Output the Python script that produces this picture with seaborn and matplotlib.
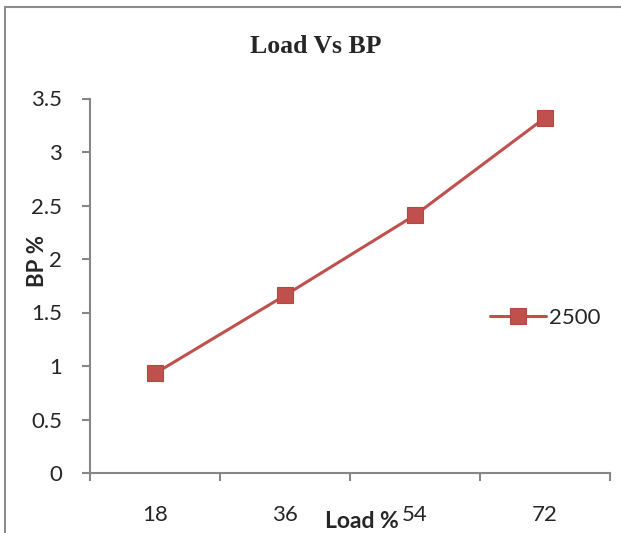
import matplotlib
matplotlib.use("Agg")
import matplotlib.pyplot as plt
import seaborn as sns
import pandas as pd
from matplotlib.patches import Rectangle

loads = ["18", "36", "54", "72"]
bp = [0.93, 1.66, 2.41, 3.32]
series_name = "2500"
y_ticks = [0, 0.5, 1, 1.5, 2, 2.5, 3, 3.5]
y_tick_labels = ["0", "0.5", "1", "1.5", "2", "2.5", "3", "3.5"]

df = pd.DataFrame({"Load": loads, "BP": bp, "Series": series_name})

sns.set_style("white")
plt.rcParams["font.family"] = ["Lato", "DejaVu Sans"]

fig = plt.figure(figsize=(6.21, 5.33), dpi=100)
ax = fig.add_axes([90 / 621, 60 / 533, 520 / 621, 374.5 / 533])

red = "#C0504D"
sns.lineplot(data=df, x="Load", y="BP", hue="Series", palette=[red], ax=ax,
             marker="s", markersize=11.5, markeredgecolor="#B5473F",
             markeredgewidth=0.8, linewidth=2.2, sort=False)

ax.set_xlim(-0.5, len(loads) - 0.5)
ax.set_ylim(0, 3.5)

gray = "#868686"
for s in ["top", "right"]:
    ax.spines[s].set_visible(False)
for s in ["left", "bottom"]:
    ax.spines[s].set_color(gray)
    ax.spines[s].set_linewidth(1.5)

ax.set_yticks(y_ticks)
ax.set_yticklabels(y_tick_labels, fontsize=16)
ax.tick_params(axis="y", which="major", direction="out", length=6, width=1.5,
               color=gray, pad=14, left=True)

ax.set_xticks([i - 0.5 for i in range(len(loads) + 1)])
ax.set_xticklabels([])
ax.set_xticks(range(len(loads)), minor=True)
ax.set_xticklabels(loads, minor=True, fontsize=16)
ax.tick_params(axis="x", which="major", direction="out", length=6, width=1.5,
               color=gray, bottom=True)
ax.tick_params(axis="x", which="minor", length=0, pad=23)

ax.set_xlabel("")
ax.set_ylabel("")
fig.text(362 / 621, 1 - 528 / 533, "Load %", ha="center", va="baseline",
         fontsize=16.5, fontweight="bold")
fig.text(44 / 621, 1 - 261 / 533, "BP %", ha="center", va="baseline",
         fontsize=16, fontweight="bold", rotation=90, rotation_mode="anchor")
fig.text(316 / 621, 1 - 53 / 533, "Load Vs BP", ha="center", va="baseline",
         fontsize=18.5, fontweight="bold", family="Liberation Serif")

ax.legend(loc="center left", bbox_to_anchor=(490 / 621, 1 - 318 / 533),
          bbox_transform=fig.transFigure, frameon=False, fontsize=16,
          handlelength=2.5, handletextpad=0.15, borderaxespad=0, borderpad=0)

fig.add_artist(Rectangle((5 / 621, -0.5), 2, 0.5 + (1 - 7 / 533),
                         transform=fig.transFigure, fill=False,
                         edgecolor="#8c8c8c", linewidth=1.5))

fig.savefig("out.png", dpi=100, facecolor="white")
